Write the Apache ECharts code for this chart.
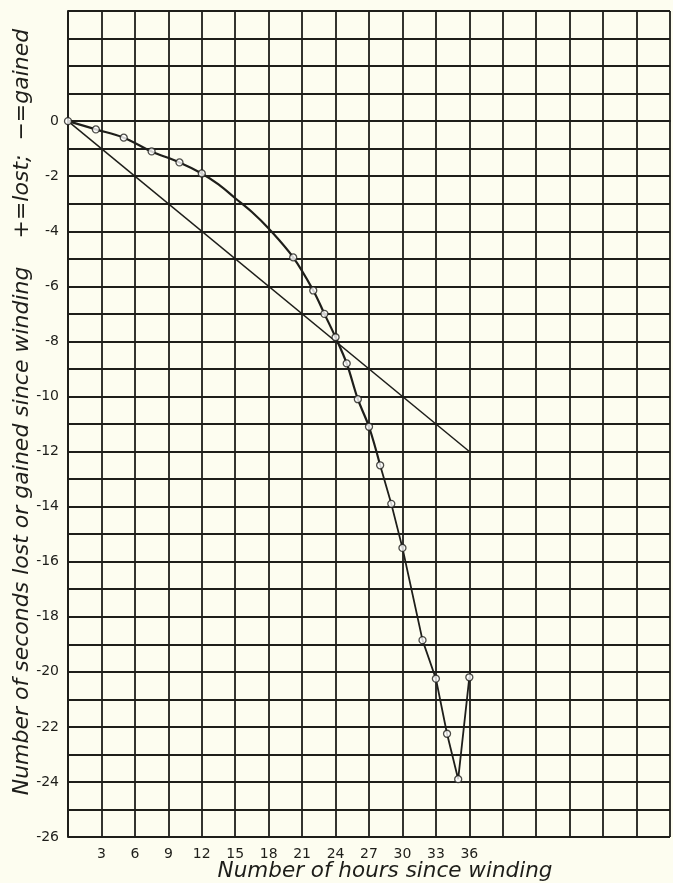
<!DOCTYPE html>
<html>
<head>
<meta charset="utf-8">
<script src="https://cdn.jsdelivr.net/npm/echarts@6/dist/echarts.min.js"></script>
<style>
  html, body { margin: 0; padding: 0; background: #fdfdf0; }
  #chart { width: 673px; height: 883px; }
</style>
</head>
<body>
<div id="chart"></div>
<script>
// Observed readings (hours since winding, seconds lost(+)/gained(-))
const observedHours   = [0, 2.5, 5, 7.5, 10, 12, 20.2, 22, 23, 24, 25, 26, 27, 28, 29, 30, 31.8, 33, 34, 35, 36];
const observedSeconds = [0, -0.3, -0.6, -1.1, -1.5, -1.9, -4.95, -6.15, -7.0, -7.85, -8.8, -10.1, -11.1, -12.5, -13.9, -15.5, -18.85, -20.25, -22.25, -23.9, -20.2];
// Points read off the drawn curve where no readings are marked
const traceHours   = [13.5, 15, 16.5, 18];
const traceSeconds = [-2.3, -2.8, -3.3, -3.9];
// Straight reference line
const lineHours   = [0, 36];
const lineSeconds = [0, -12];
// Axis tick labels
const xTickLabels = [3, 6, 9, 12, 15, 18, 21, 24, 27, 30, 33, 36];
const yTickLabels = [0, -2, -4, -6, -8, -10, -12, -14, -16, -18, -20, -22, -24, -26];

const smoothEnd = 28;
const smoothPts = observedHours.map((h, i) => [h, observedSeconds[i]])
  .filter(p => p[0] <= smoothEnd)
  .concat(traceHours.map((h, i) => [h, traceSeconds[i]]))
  .sort((a, b) => a[0] - b[0]);
const straightPts = observedHours.map((h, i) => [h, observedSeconds[i]])
  .filter(p => p[0] >= smoothEnd);
const markerPts = observedHours.map((h, i) => [h, observedSeconds[i]]);
const refLine = lineHours.map((h, i) => [h, lineSeconds[i]]);

const ink = '#1e1e1a';
const chart = echarts.init(document.getElementById('chart'), null, { renderer: 'canvas' });
chart.setOption({
  backgroundColor: '#fdfdf0',
  animation: false,
  grid: { left: 68, top: 11, right: 1, bottom: 46, containLabel: false },
  xAxis: {
    type: 'value', min: 0, max: 54, interval: 3,
    axisLine: { show: true, lineStyle: { color: ink, width: 2 } },
    axisTick: { show: false },
    splitLine: { show: true, lineStyle: { color: ink, width: 1.8 } },
    axisLabel: {
      margin: 10, color: ink, fontFamily: 'DejaVu Sans', fontSize: 14,
      formatter: v => xTickLabels.includes(v) ? String(v) : ''
    }
  },
  yAxis: {
    type: 'value', min: -26, max: 4, interval: 1,
    axisLine: { show: true, lineStyle: { color: ink, width: 2 } },
    axisTick: { show: false },
    splitLine: { show: true, lineStyle: { color: ink, width: 1.8 } },
    axisLabel: {
      margin: 9, color: ink, fontFamily: 'DejaVu Sans', fontSize: 14,
      formatter: v => yTickLabels.includes(v) ? String(v) : ''
    }
  },
  graphic: [
    {
      type: 'text', x: 22, y: 412, rotation: Math.PI / 2, originX: 0, originY: 0,
      style: {
        text: 'Number of seconds lost or gained since winding    +=lost;  \u2212=gained',
        fill: ink, font: 'italic 22px "DejaVu Sans"', align: 'center', verticalAlign: 'middle'
      }
    },
    {
      type: 'text', x: 385, y: 871,
      style: {
        text: 'Number of hours since winding',
        fill: ink, font: 'italic 21.5px "DejaVu Sans"', align: 'center', verticalAlign: 'middle'
      }
    }
  ],
  series: [
    {
      type: 'line', data: refLine, symbol: 'none', silent: true,
      lineStyle: { color: ink, width: 1.5 }, z: 3
    },
    {
      type: 'line', data: smoothPts, smooth: 0.35, symbol: 'none', silent: true,
      lineStyle: { color: ink, width: 2.2 }, z: 4
    },
    {
      type: 'line', data: straightPts, smooth: false, symbol: 'none', silent: true,
      lineStyle: { color: ink, width: 1.8 }, z: 4
    },
    {
      type: 'scatter', data: markerPts, symbol: 'circle', symbolSize: 7, silent: true,
      itemStyle: { color: '#ffffff', borderColor: ink, borderWidth: 1.3 }, z: 5
    }
  ]
});
</script>
</body>
</html>
